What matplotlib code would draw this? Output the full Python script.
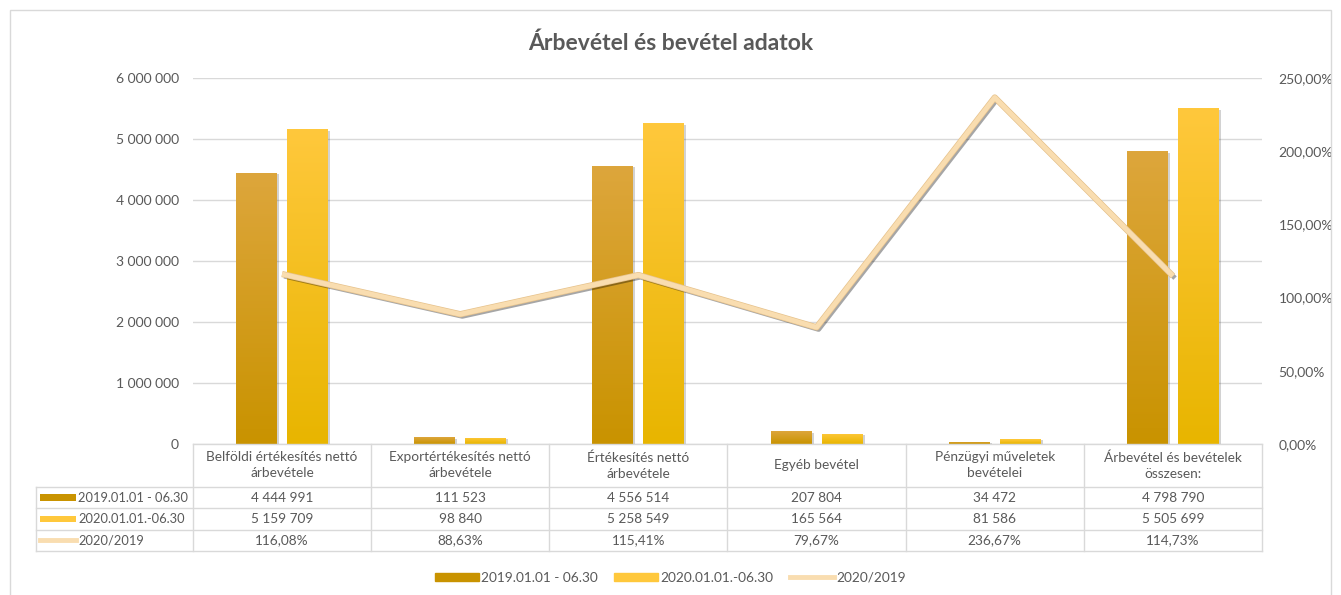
import numpy as np
import matplotlib
matplotlib.use("Agg")
import matplotlib.pyplot as plt
import matplotlib.patheffects as pe
from matplotlib.colors import LinearSegmentedColormap
from matplotlib.patches import Rectangle
from matplotlib.lines import Line2D

plt.rcParams['font.family'] = ['Lato', 'DejaVu Sans']

categories = ["Belföldi értékesítés nettó\nárbevétele",
              "Exportértékesítés nettó\nárbevétele",
              "Értékesítés nettó\nárbevétele",
              "Egyéb bevétel",
              "Pénzügyi műveletek\nbevételei",
              "Árbevétel és bevételek\nösszesen:"]
rev_2019 = [4444991, 111523, 4556514, 207804, 34472, 4798790]
rev_2020 = [5159709, 98840, 5258549, 165564, 81586, 5505699]
ratio = [116.08, 88.63, 115.41, 79.67, 236.67, 114.73]
series_names = ["2019.01.01 - 06.30", "2020.01.01.-06.30", "2020/2019"]

left_ticks = [0, 1000000, 2000000, 3000000, 4000000, 5000000, 6000000]
right_ticks = [0, 50, 100, 150, 200, 250]

TXT = '#595959'
GRID = '#D9D9D9'
C19 = ('#DDA63C', '#C99300')
C20 = ('#FFC83C', '#E8B500')
LINE = '#F9DDB0'


def fmt_int(v):
    return f"{v:,}".replace(",", " ")


def fmt_pct(v):
    return f"{v:.2f}%".replace(".", ",")


def grad_fill(ax, bar, top, bot):
    x0, y0 = bar.get_xy()
    w, h = bar.get_width(), bar.get_height()
    cmap = LinearSegmentedColormap.from_list('g', [bot, top])
    img = ax.imshow(np.linspace(0, 1, 128).reshape(-1, 1), cmap=cmap,
                    extent=[x0, x0 + w, y0, y0 + h], origin='lower',
                    aspect='auto', zorder=2, interpolation='bilinear')
    img.set_clip_path(bar)
    bar.set_facecolor('none')


fig = plt.figure(figsize=(13.41, 5.95), dpi=100)
ax = fig.add_axes([0.1439, 0.2538, 0.7972, 0.6151])

x = np.arange(len(categories))
bw = 0.23
off = 0.143
b1 = ax.bar(x - off, rev_2019, bw, linewidth=0, zorder=2,
            path_effects=[pe.SimplePatchShadow(offset=(1.5, -1), alpha=0.25), pe.Normal()])
b2 = ax.bar(x + off, rev_2020, bw, linewidth=0, zorder=2,
            path_effects=[pe.SimplePatchShadow(offset=(1.5, -1), alpha=0.25), pe.Normal()])
for b in b1:
    grad_fill(ax, b, *C19)
for b in b2:
    grad_fill(ax, b, *C20)

ax.set_xlim(-0.5, len(categories) - 0.5)
ax.set_ylim(0, 6000000)
ax.set_yticks(left_ticks)
ax.set_yticklabels([fmt_int(t) for t in left_ticks])
ax.set_xticks([])
ax.grid(axis='y', color=GRID, linewidth=1)
ax.set_axisbelow(True)
for s in ax.spines.values():
    s.set_visible(False)
ax.tick_params(axis='y', length=0, pad=10, labelsize=10, labelcolor=TXT)

ax2 = ax.twinx()
ax2.plot(x, ratio, color=LINE, linewidth=3.5, solid_capstyle='butt', zorder=5,
         path_effects=[pe.SimpleLineShadow(offset=(1.5, -1.5), alpha=0.35),
                       pe.Stroke(linewidth=4.5, foreground='#E6C28C'), pe.Normal()])
ax2.set_ylim(0, 250)
ax2.set_yticks(right_ticks)
ax2.set_yticklabels([fmt_pct(t) for t in right_ticks])
for s in ax2.spines.values():
    s.set_visible(False)
ax2.tick_params(axis='y', length=0, pad=12, labelsize=10, labelcolor=TXT)

# data table under the plot
tr = ax.transAxes
ncol = len(categories)
lab_left = -0.1469
y_head = -43 / 366
rows_y = [y_head, y_head - 21.3 / 366, y_head - 42.6 / 366, y_head - 64 / 366]
lk = dict(transform=tr, color=GRID, linewidth=1, clip_on=False)
ax.add_line(Line2D([0, 1], [0, 0], **lk))
for yy in rows_y:
    ax.add_line(Line2D([lab_left, 1], [yy, yy], **lk))
for k in range(ncol + 1):
    ax.add_line(Line2D([k / ncol, k / ncol], [0, rows_y[-1]], **lk))
ax.add_line(Line2D([lab_left, lab_left], [y_head, rows_y[-1]], **lk))

tk = dict(transform=tr, color=TXT, fontsize=9.8, ha='center', va='center', clip_on=False)
for k, cat in enumerate(categories):
    cx = (k + 0.5) / ncol
    ax.text(cx, y_head / 2, cat, linespacing=1.4, **tk)
    row_vals = [fmt_int(rev_2019[k]), fmt_int(rev_2020[k]), fmt_pct(ratio[k])]
    for r, val in enumerate(row_vals):
        ax.text(cx, (rows_y[r] + rows_y[r + 1]) / 2, val, **tk)

sw_x0, sw_x1 = -0.1431, -0.1094
for r, name in enumerate(series_names):
    yc = (rows_y[r] + rows_y[r + 1]) / 2
    if r < 2:
        col = C19[1] if r == 0 else C20[0]
        ax.add_patch(Rectangle((sw_x0, yc - 0.009), sw_x1 - sw_x0, 0.018,
                               transform=tr, color=col, clip_on=False, linewidth=0))
    else:
        ax.add_line(Line2D([sw_x0, sw_x1], [yc, yc], transform=tr, color=LINE,
                           linewidth=3.5, clip_on=False))
    ax.text(sw_x1 + 0.002, yc, name, transform=tr, color=TXT, fontsize=9.3,
            ha='left', va='center', clip_on=False)

# legend
handles = [Rectangle((0, 0), 1, 1, color=C19[1]),
           Rectangle((0, 0), 1, 1, color=C20[0]),
           Line2D([0], [0], color=LINE, linewidth=3.5)]
fig.legend(handles, series_names, loc='center', bbox_to_anchor=(0.5, 0.029),
           ncol=3, frameon=False, fontsize=9.8, handlelength=3.2, handleheight=0.5,
           handletextpad=0.2, columnspacing=1.2, labelcolor=TXT)

fig.text(0.5, 0.928, "Árbevétel és bevétel adatok", ha='center', va='center',
         fontsize=16.5, fontweight='bold', color=TXT)

fig.add_artist(Rectangle((10 / 1341, -0.01), 1321 / 1341, 0.993, transform=fig.transFigure,
                         fill=False, edgecolor=GRID, linewidth=1))

fig.savefig("out.png", dpi=100)
